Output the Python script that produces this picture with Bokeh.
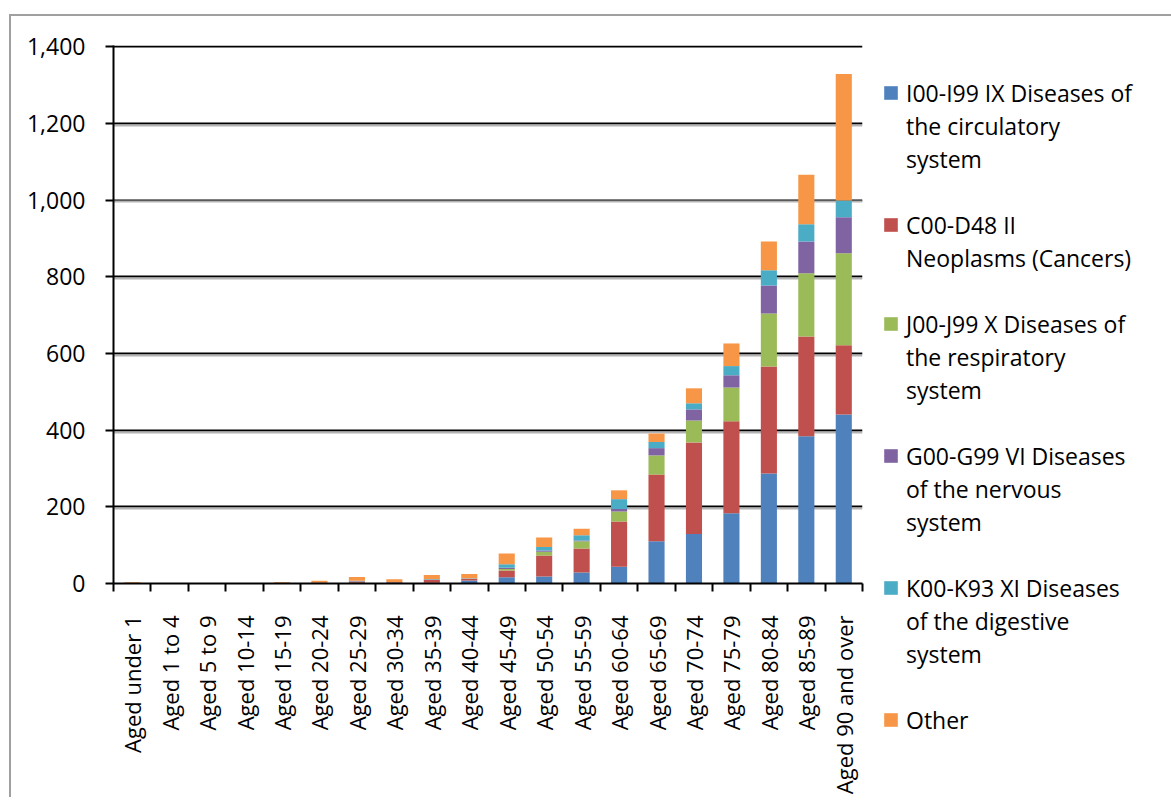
from bokeh.plotting import figure
from bokeh.models import (ColumnDataSource, FixedTicker, NumeralTickFormatter, Range1d,
                          Legend, LegendItem, Grid)
from bokeh.embed import file_html
from bokeh.resources import INLINE
import math

# ---------------- data ----------------
categories = ["Aged under 1", "Aged 1 to 4", "Aged 5 to 9", "Aged 10-14", "Aged 15-19",
              "Aged 20-24", "Aged 25-29", "Aged 30-34", "Aged 35-39", "Aged 40-44",
              "Aged 45-49", "Aged 50-54", "Aged 55-59", "Aged 60-64", "Aged 65-69",
              "Aged 70-74", "Aged 75-79", "Aged 80-84", "Aged 85-89", "Aged 90 and over"]

circulatory = [0, 0, 0, 0, 0.5, 1, 2, 1, 2, 8, 16.5, 18, 29, 44, 110, 129, 183, 287, 384, 441]
neoplasms   = [0, 0, 0, 0, 0.5, 1.5, 3, 2, 8, 4, 17.5, 55, 62, 118, 174, 239, 240, 279, 260, 180]
respiratory = [0, 0, 0, 0, 0, 0, 0.5, 0, 0.5, 0.5, 4, 10, 19, 26, 50, 57, 88, 138, 165, 240]
nervous     = [0, 0, 0, 0, 0, 0, 0.5, 0, 0.5, 0.5, 3, 3, 2, 6, 19, 29, 32, 73, 83, 94]
digestive   = [0, 0, 0, 0, 0, 0, 1, 1, 1, 1, 9, 9, 14, 26, 16, 16, 24, 40, 45, 44]
other       = [3, 0.5, 0.3, 0.3, 2, 4.5, 10, 7, 10, 11, 28, 25, 17, 23, 22, 39, 59, 75, 129, 330]

series_keys = ["circulatory", "neoplasms", "respiratory", "nervous", "digestive", "other"]
series_labels = [
    ["I00-I99 IX Diseases of", "the circulatory", "system"],
    ["C00-D48 II", "Neoplasms (Cancers)"],
    ["J00-J99 X Diseases of", "the respiratory", "system"],
    ["G00-G99 VI Diseases", "of the nervous", "system"],
    ["K00-K93 XI Diseases", "of the digestive", "system"],
    ["Other"],
]
colors = ["#4F81BD", "#C0504D", "#9BBB59", "#8064A2", "#4BACC6", "#F79646"]

y_ticks = [0, 200, 400, 600, 800, 1000, 1200, 1400]

FONT = "Open Sans"
FS = "23px"

# ---------------- main chart ----------------
n = len(categories)
xs = [i + 0.5 for i in range(n)]
src = ColumnDataSource(dict(x=xs, circulatory=circulatory, neoplasms=neoplasms,
                            respiratory=respiratory, nervous=nervous,
                            digestive=digestive, other=other))

p = figure(frame_width=749, frame_height=538,
           min_border_left=102, min_border_right=293, min_border_top=29, min_border_bottom=205,
           x_range=Range1d(0, n), y_range=Range1d(0, 1403),
           output_backend="svg", toolbar_location=None,
           background_fill_color="white", border_fill_color="white",
           styles={"margin-left": "9px", "margin-top": "14px",
                   "border-top": "2px solid #a0a0a0", "border-left": "2px solid #a0a0a0"})
p.outline_line_color = None

bars = p.vbar_stack(series_keys, x="x", width=0.43, source=src, color=colors, line_color=None)
dummy = p.vbar(x=[], top=[], width=0.1, fill_alpha=0, line_alpha=0)

# y axis
p.yaxis.ticker = FixedTicker(ticks=y_ticks)
p.yaxis.formatter = NumeralTickFormatter(format="0,0")
p.yaxis.axis_line_color = "black"
p.yaxis.axis_line_width = 2
p.yaxis.major_tick_line_color = "black"
p.yaxis.major_tick_line_width = 2
p.yaxis.major_tick_out = 8
p.yaxis.major_tick_in = 0
p.yaxis.minor_tick_line_color = None
p.yaxis.major_label_standoff = 20
p.yaxis.major_label_text_font = FONT
p.yaxis.major_label_text_font_size = FS
p.yaxis.major_label_text_color = "black"

# x axis: labels at centres, ticks at boundaries
p.xaxis.ticker = FixedTicker(ticks=xs, minor_ticks=list(range(n + 1)))
p.xaxis.major_label_overrides = {x: c for x, c in zip(xs, categories)}
p.xaxis.major_label_orientation = math.pi / 2
p.xaxis.major_tick_line_color = None
p.xaxis.major_tick_out = 0
p.xaxis.major_tick_in = 0
p.xaxis.minor_tick_line_color = "black"
p.xaxis.minor_tick_line_width = 2
p.xaxis.minor_tick_out = 8
p.xaxis.minor_tick_in = 0
p.xaxis.axis_line_color = "black"
p.xaxis.axis_line_width = 2
p.xaxis.major_label_standoff = 24
p.xaxis.major_label_text_font = FONT
p.xaxis.major_label_text_font_size = "22px"
p.xaxis.major_label_text_color = "black"

p.xgrid.grid_line_color = None
p.ygrid.ticker = FixedTicker(ticks=y_ticks)
p.ygrid.grid_line_color = "black"
p.ygrid.grid_line_width = 2

# soft grey shadow under each inner gridline (Excel look)
shadow = Grid(dimension=1, ticker=FixedTicker(ticks=[t - 5 for t in y_ticks[1:-1]]),
              grid_line_color="#b4b4b4", grid_line_width=2)
p.add_layout(shadow)

# ---------------- legend (one row per text line, blank row between entries) ----------------
items = []
for k, lines in enumerate(series_labels):
    if k > 0:
        items.append(LegendItem(label=" ", renderers=[dummy]))
    for j, t in enumerate(lines):
        items.append(LegendItem(label=t, renderers=[bars[k] if j == 0 else dummy]))

legend = Legend(items=items, location="top_left", margin=20, padding=0, spacing=0,
                border_line_color=None, background_fill_alpha=0,
                label_text_font=FONT, label_text_font_size=FS, label_text_color="black",
                label_height=33, glyph_height=17, glyph_width=17, label_standoff=7,
                title=" ", title_text_font_size="1px", title_standoff=10)
p.add_layout(legend, "right")

open("out.html", "w").write(file_html(p, INLINE))
